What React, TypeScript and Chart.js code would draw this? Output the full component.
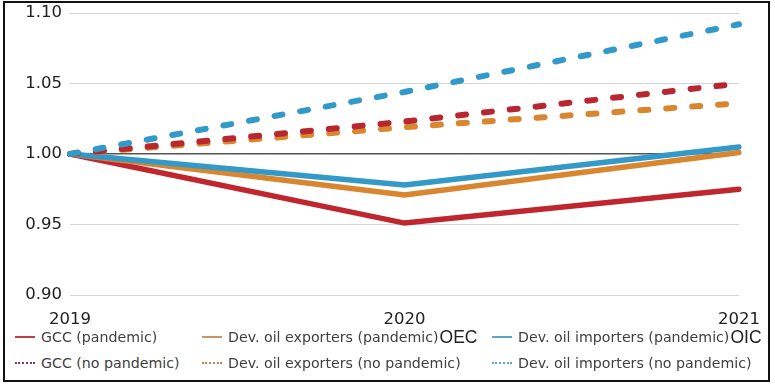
import React, { useEffect, useRef } from "react";
import { Chart, registerables } from "chart.js";

Chart.register(...registerables);

const years = ["2019", "2020", "2021"];
const yTicks = [0.9, 0.95, 1.0, 1.05, 1.1];

const gccPandemic = [1.0, 0.951, 0.975];
const exportersPandemic = [1.0, 0.971, 1.001];
const importersPandemic = [1.0, 0.978, 1.005];
const gccNoPandemic = [1.0, 1.023, 1.05];
const exportersNoPandemic = [1.0, 1.019, 1.036];
const importersNoPandemic = [1.0, 1.044, 1.092];

const RED = "#c0262e";
const ORANGE = "#d8862f";
const BLUE = "#3399c8";

const legendRows = [
  [
    { label: "GCC (pandemic)", extra: "", color: "#b8404c", dotted: false },
    { label: "Dev. oil exporters (pandemic)", extra: "OEC", color: "#c99560", dotted: false },
    { label: "Dev. oil importers (pandemic)", extra: "OIC", color: "#5ea6c8", dotted: false },
  ],
  [
    { label: "GCC (no pandemic)", extra: "", color: "#8a3a50", dotted: true },
    { label: "Dev. oil exporters (no pandemic)", extra: "", color: "#c08850", dotted: true },
    { label: "Dev. oil importers (no pandemic)", extra: "", color: "#5ea6c8", dotted: true },
  ],
];
const colX = [15, 202, 492];
const rowY = [337, 363];

export default function App() {
  const ref = useRef<HTMLCanvasElement | null>(null);

  useEffect(() => {
    document.body.style.margin = "0";
    const solid = (data: number[], color: string) => ({
      data,
      borderColor: color,
      backgroundColor: color,
      borderWidth: 5.5,
      pointRadius: 0,
      tension: 0,
      fill: false,
      borderCapStyle: "round" as const,
    });
    const dashed = (data: number[], color: string) => ({
      data,
      borderColor: color,
      backgroundColor: color,
      borderWidth: 6,
      pointRadius: 0,
      tension: 0,
      fill: false,
      borderDash: [8, 18],
      borderCapStyle: "round" as const,
    });
    const tickFont = { family: "'DejaVu Sans', Verdana, sans-serif", size: 16.5 };
    const chart = new Chart(ref.current!, {
      type: "line",
      data: {
        labels: years,
        datasets: [
          dashed(importersNoPandemic, BLUE),
          dashed(gccNoPandemic, "#b8262f"),
          dashed(exportersNoPandemic, ORANGE),
          solid(importersPandemic, BLUE),
          solid(exportersPandemic, ORANGE),
          solid(gccPandemic, RED),
        ],
      },
      options: {
        animation: false,
        responsive: false,
        maintainAspectRatio: false,
        layout: { padding: { left: 0, right: 33, top: 13, bottom: 0 } },
        plugins: { legend: { display: false }, tooltip: { enabled: false } },
        scales: {
          x: {
            type: "category",
            offset: false,
            grid: { display: false, drawTicks: false },
            border: { display: false },
            ticks: {
              color: "#222",
              padding: 15,
              maxRotation: 0,
              autoSkip: false,
              font: tickFont,
            },
            afterFit: (s: any) => {
              s.height = 35;
            },
          },
          y: {
            min: 0.9,
            max: 1.1,
            grid: {
              drawTicks: false,
              color: (ctx: any) =>
                ctx.tick && Math.abs(ctx.tick.value - 1.0) < 1e-6 ? "#555555" : "#d4d4d4",
              lineWidth: (ctx: any) =>
                ctx.tick && Math.abs(ctx.tick.value - 1.0) < 1e-6 ? 1.5 : 1,
            },
            border: { display: false },
            afterBuildTicks: (s: any) => {
              s.ticks = yTicks.map((v) => ({ value: v }));
            },
            afterFit: (s: any) => {
              s.width = 70;
              s.paddingTop = 0;
              s.paddingBottom = 0;
            },
            ticks: {
              color: "#222",
              padding: 8,
              font: tickFont,
              callback: (v: any) => Number(v).toFixed(2),
            },
          },
        },
      },
    });
    return () => chart.destroy();
  }, []);

  return (
    <div style={{ position: "relative", width: 775, height: 387, background: "#fff", overflow: "hidden" }}>
      <canvas ref={ref} width={775} height={330} style={{ position: "absolute", left: 0, top: 0, width: 775, height: 330 }} />
      {legendRows.map((row, ri) =>
        row.map((item, ci) => (
          <div
            key={ri + "-" + ci}
            style={{
              position: "absolute",
              left: colX[ci],
              top: rowY[ri] - 10,
              height: 20,
              display: "flex",
              alignItems: "center",
              whiteSpace: "nowrap",
              fontFamily: "'DejaVu Sans', Verdana, sans-serif",
              fontSize: 14.2,
              color: "#404040",
            }}
          >
            <span
              style={{
                display: "inline-block",
                width: 20,
                height: 0,
                borderTop: item.dotted ? `2px dotted ${item.color}` : `2.5px solid ${item.color}`,
                marginRight: 6,
              }}
            />
            <span>{item.label}</span>
            {item.extra ? (
              <span style={{ fontFamily: "'Liberation Sans', Arial, sans-serif", fontSize: 17.5, color: "#222", marginLeft: 1 }}>
                {item.extra}
              </span>
            ) : null}
          </div>
        ))
      )}
      <div
        style={{
          position: "absolute",
          left: 3,
          top: 1,
          width: 763,
          height: 377,
          border: "2.5px solid #111",
          pointerEvents: "none",
        }}
      />
    </div>
  );
}
